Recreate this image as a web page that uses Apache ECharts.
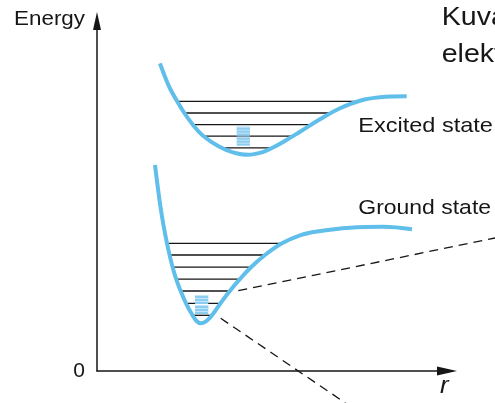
<!DOCTYPE html>
<html><head><meta charset="utf-8">
<script src="https://cdn.jsdelivr.net/npm/echarts@6/dist/echarts.min.js"></script>
<style>html,body{margin:0;padding:0;background:#fff}#c{width:495px;height:403px}</style>
</head><body><div id="c"></div>
<script>
// ---- data (r = internuclear distance, E = energy, arbitrary units) ----
const excitedCurveR = [6.30, 6.75, 7.30, 8.00, 8.70, 9.55, 10.60, 12.20, 13.60, 15.10, 16.50, 17.60, 18.70, 20.30, 22.30, 24.30, 26.30, 28.30, 30.97];
const excitedCurveE = [30.77, 29.55, 28.25, 27.00, 25.85, 24.67, 23.53, 22.45, 21.87, 21.62, 21.87, 22.35, 22.95, 23.93, 25.17, 26.27, 27.03, 27.37, 27.47];

const groundCurveR = [5.80, 6.05, 6.35, 6.68, 7.00, 7.26, 7.56, 7.92, 8.36, 8.90, 9.55, 9.95, 10.35, 10.90, 11.50, 12.35, 13.28, 14.28, 15.40, 16.80, 18.50, 20.30, 22.00, 25.30, 28.60, 31.50];
const groundCurveE = [20.60, 18.60, 16.40, 14.40, 12.77, 11.60, 10.38, 9.18, 8.00, 6.77, 5.57, 5.00, 4.77, 4.97, 5.57, 6.77, 8.00, 9.18, 10.38, 11.60, 12.77, 13.57, 13.95, 14.33, 14.42, 14.17];

const excitedLevelE  = [26.97, 25.80, 24.63, 23.48, 22.32];
const excitedLevelR0 = [8.07, 8.80, 9.63, 10.63, 12.37];
const excitedLevelR1 = [26.63, 23.47, 21.30, 19.47, 17.63];

const groundLevelE  = [12.77, 11.60, 10.38, 9.18, 8.00, 6.77, 5.57];
const groundLevelR0 = [7.03, 7.30, 7.53, 7.87, 8.30, 8.97, 9.47];
const groundLevelR1 = [18.47, 16.80, 15.30, 14.30, 13.30, 12.30, 11.47];

// dashed lines: [rStart, EStart, rEnd, EEnd]
const dash1 = [14.13, 8.03, 39.80, 13.30];
const dash2 = [12.37, 5.27, 24.84, -3.20];

// population markers: [r0, r1, E0, E1]
const excitedMarker = [13.97, 15.30, 22.43, 24.43];
const groundMarker  = [9.80, 11.13, 5.60, 7.60];

const yTickLabels = ['0'];
const stateLabels = ['Excited state', 'Ground state'];
const titleLines = ['Kuva', 'elekt'];

// ---- build ----
const zip = (a, b) => a.map((v, i) => [v, b[i]]);
const blue = '#5fbfea';
const ink = '#161616';
const FF = '"Liberation Sans", Arial, sans-serif';

const series = [];
excitedLevelE.forEach((e, i) => series.push({
  type: 'line', data: [[excitedLevelR0[i], e], [excitedLevelR1[i], e]],
  symbol: 'none', clip: false, z: 2, lineStyle: { color: ink, width: 1.3 }
}));
groundLevelE.forEach((e, i) => series.push({
  type: 'line', data: [[groundLevelR0[i], e], [groundLevelR1[i], e]],
  symbol: 'none', clip: false, z: 2, lineStyle: { color: ink, width: 1.3 }
}));
series.push({
  type: 'custom', z: 2, clip: false,
  data: [dash1, dash2],
  renderItem(params, api) {
    const a = api.coord([api.value(0), api.value(1)]);
    const b = api.coord([api.value(2), api.value(3)]);
    return {
      type: 'line', shape: { x1: a[0], y1: a[1], x2: b[0], y2: b[1] },
      style: { stroke: ink, lineWidth: 1.3, lineDash: [9, 6], fill: null }
    };
  }
});
series.push({
  type: 'custom', z: 3, clip: false,
  data: [excitedMarker, groundMarker],
  renderItem(params, api) {
    const p0 = api.coord([api.value(0), api.value(3)]);
    const p1 = api.coord([api.value(1), api.value(2)]);
    const x = p0[0], y = p0[1], w = p1[0] - p0[0], h = p1[1] - p0[1];
    const half = h / 2;
    const children = [];
    for (let b = 0; b < 2; b++) {
      const by = y + b * half;
      children.push({ type: 'rect', shape: { x, y: by, width: w, height: half - 1 }, style: { fill: '#8ccdf0' } });
      for (let s = 0; s < half - 1; s += 3) {
        children.push({ type: 'rect', shape: { x, y: by + s, width: w, height: 1 }, style: { fill: '#c2e5f7' } });
      }
    }
    return { type: 'group', children };
  }
});
[[excitedCurveR, excitedCurveE], [groundCurveR, groundCurveE]].forEach(c => series.push({
  type: 'line', data: zip(c[0], c[1]), symbol: 'none', smooth: 0.4, clip: false, z: 4,
  lineStyle: { color: blue, width: 4, cap: 'butt' }
}));

const txt = (text, x, y, size, extra) => Object.assign({
  type: 'text', x, y, scaleX: 1.12, z: 10,
  style: Object.assign({ text, fontSize: size, fontFamily: FF, fill: ink, align: 'left', verticalAlign: 'middle' }, extra || {})
});

const chart = echarts.init(document.getElementById('c'), null, { renderer: 'canvas' });
chart.setOption({
  animation: false,
  backgroundColor: '#fff',
  grid: { left: 97, right: 48, top: 21, bottom: 32, containLabel: false, outerBoundsMode: 'none' },
  xAxis: {
    type: 'value', min: 0, max: 35, interval: 35,
    axisLine: { show: true, symbol: ['none', 'triangle'], symbolSize: [9, 20], lineStyle: { color: ink, width: 1.5 } },
    axisTick: { show: false }, axisLabel: { show: false }, splitLine: { show: false }
  },
  yAxis: {
    type: 'value', min: 0, max: 35, interval: 35,
    axisLine: { show: true, symbol: ['none', 'triangle'], symbolSize: [8, 18], lineStyle: { color: ink, width: 1.5 } },
    axisTick: { show: false }, splitLine: { show: false },
    axisLabel: {
      margin: 12, fontSize: 21, fontFamily: FF, color: ink, padding: [6, 0, 0, 0],
      formatter: v => (v === 0 ? yTickLabels[0] : '')
    }
  },
  graphic: [
    txt('Energy', 85, 19, 20, { align: 'right' }),
    txt(stateLabels[0], 358.3, 126, 21),
    txt(stateLabels[1], 358.3, 208, 20.5),
    txt(titleLines[0], 441.7, 17.5, 25.5),
    txt(titleLines[1], 441.7, 55.3, 25.5),
    txt('r', 440, 387, 23, { fontStyle: 'italic' })
  ],
  series
});
</script>
</body></html>
